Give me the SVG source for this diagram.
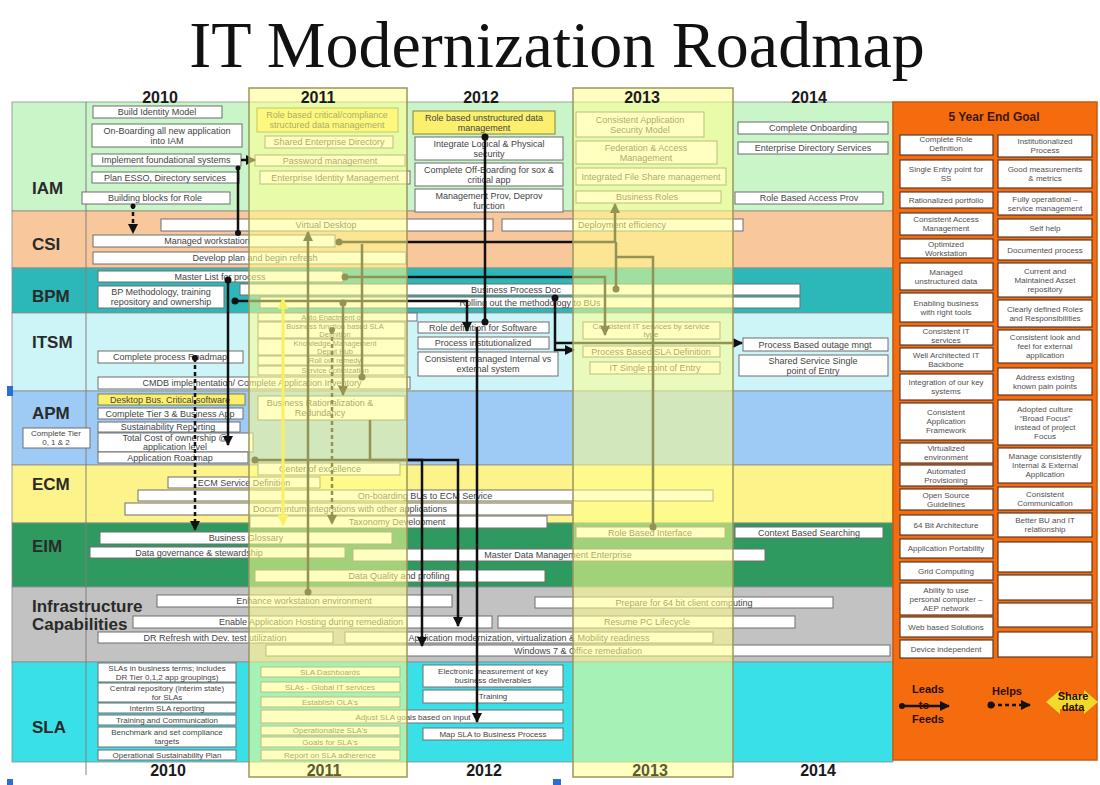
<svg xmlns="http://www.w3.org/2000/svg" width="1100" height="785" viewBox="0 0 1100 785">
<defs>
<style>
.bg{stroke:#8a8a8a;stroke-width:0.8}
.box{fill:#fff;stroke:#6e6e6e;stroke-width:1}
.ybox{fill:#fbef6e;stroke:#8a8040;stroke-width:1}
.t{font-family:"Liberation Sans",Arial,sans-serif;font-size:9px;fill:#444;text-anchor:middle}
.s8{font-size:8px}
.s7{font-size:7.5px}
.lbl{font-family:"Liberation Sans",Arial,sans-serif;font-weight:bold;font-size:17px;fill:#2a2a2a}
.yr{font-family:"Liberation Sans",Arial,sans-serif;font-weight:bold;font-size:16px;fill:#1a1a1a;text-anchor:middle}
.conn{fill:none;stroke:#111;stroke-width:2.5}
.dash{stroke-dasharray:4,3}
.dot{fill:#111}
.ov{fill:#ffff8c;fill-opacity:0.55;stroke:#9c9560;stroke-width:1.5}
.gbox{fill:#fff;stroke:#5a3a2a;stroke-width:1.2}
.gt{font-family:"Liberation Sans",Arial,sans-serif;font-size:8px;fill:#505050;text-anchor:middle}
.leg{font-family:"Liberation Sans",Arial,sans-serif;font-weight:bold;font-size:11px;fill:#2a1000;text-anchor:middle}
</style>
<marker id="ah" viewBox="0 0 10 10" refX="9" refY="5" markerWidth="10" markerHeight="10" markerUnits="userSpaceOnUse" orient="auto"><path d="M0,0 L10,5 L0,10 z" fill="#111"/></marker>
<marker id="yh" viewBox="0 0 10 10" refX="9" refY="5" markerWidth="11" markerHeight="11" markerUnits="userSpaceOnUse" orient="auto-start-reverse"><path d="M0,0 L10,5 L0,10 z" fill="#f2dc30"/></marker>
</defs>
<rect width="1100" height="785" fill="#fff"/>
<text x="557" y="67" font-family="'Liberation Serif','Times New Roman',serif" font-size="66" fill="#111" text-anchor="middle">IT Modernization Roadmap</text>

<g id="lanes">
<rect class="bg" x="12" y="102" width="881" height="109" fill="#c9f5c9"/>
<rect class="bg" x="12" y="211" width="881" height="57" fill="#f8c89c"/>
<rect class="bg" x="12" y="268" width="881" height="45" fill="#2cb8b8"/>
<rect class="bg" x="12" y="313" width="881" height="78" fill="#cdf5f8"/>
<rect class="bg" x="12" y="391" width="881" height="74" fill="#9dcbf6"/>
<rect class="bg" x="12" y="465" width="881" height="58" fill="#fcf38a"/>
<rect class="bg" x="12" y="523" width="881" height="64" fill="#2f9a60"/>
<rect class="bg" x="12" y="587" width="881" height="75" fill="#c2c2c2"/>
<rect class="bg" x="12" y="662" width="881" height="100" fill="#3ae0e8"/>
<line x1="86" y1="102" x2="86" y2="775" stroke="#808080" stroke-width="1"/>
<text class="lbl" x="32" y="194">IAM</text>
<text class="lbl" x="32" y="250">CSI</text>
<text class="lbl" x="32" y="302">BPM</text>
<text class="lbl" x="32" y="348">ITSM</text>
<text class="lbl" x="32" y="419">APM</text>
<text class="lbl" x="32" y="490">ECM</text>
<text class="lbl" x="32" y="552">EIM</text>
<text class="lbl" x="32" y="612">Infrastructure</text>
<text class="lbl" x="32" y="630">Capabilities</text>
<text class="lbl" x="32" y="733">SLA</text>
</g>

<g id="iam">
<g id="b1"><rect class="box" x="93" y="106" width="129" height="12"/><text class="t" x="157" y="115">Build Identity Model</text></g>
<g id="b2"><rect class="box" x="92" y="124" width="150" height="23"/><text class="t" x="167" y="134">On-Boarding all new application</text><text class="t" x="167" y="144">into IAM</text></g>
<g id="b3"><rect class="box" x="92" y="154" width="149" height="12"/><text class="t" x="166" y="163">Implement foundational systems</text></g>
<g id="b4"><rect class="box" x="92" y="172" width="147" height="11"/><text class="t" x="165" y="181">Plan ESSO, Directory services</text></g>
<g id="b5"><rect class="box" x="82" y="192" width="148" height="12"/><text class="t" x="155" y="201">Building blocks for Role</text></g>
<g id="b6"><rect class="ybox" x="257" y="108" width="141" height="24"/><text class="t" x="327" y="118">Role based critical/compliance</text><text class="t" x="327" y="128">structured data management</text></g>
<g id="b7"><rect class="box" x="265" y="136" width="128" height="12"/><text class="t" x="329" y="145">Shared Enterprise Directory</text></g>
<g id="b8"><rect class="box" x="255" y="155" width="150" height="11"/><text class="t" x="330" y="164">Password management</text></g>
<g id="b9"><rect class="box" x="260" y="171" width="150" height="13"/><text class="t" x="335" y="181">Enterprise Identity Management</text></g>
<g id="b10"><rect class="ybox" x="413" y="111" width="142" height="23"/><text class="t" x="484" y="121">Role based unstructured data</text><text class="t" x="484" y="131">management</text></g>
<g id="b11"><rect class="box" x="415" y="137" width="148" height="23"/><text class="t" x="489" y="147">Integrate Logical &amp; Physical</text><text class="t" x="489" y="157">security</text></g>
<g id="b12"><rect class="box" x="415" y="163" width="148" height="23"/><text class="t" x="489" y="173">Complete Off-Boarding for sox &amp;</text><text class="t" x="489" y="183">critical app</text></g>
<g id="b13"><rect class="box" x="415" y="189" width="148" height="23"/><text class="t" x="489" y="199">Management Prov, Deprov</text><text class="t" x="489" y="209">function</text></g>
<g id="b14"><rect class="box" x="576" y="112" width="128" height="25"/><text class="t" x="640" y="123">Consistent Application</text><text class="t" x="640" y="133">Security Model</text></g>
<g id="b15"><rect class="box" x="576" y="141" width="141" height="23"/><text class="t" x="646" y="151">Federation &amp; Access</text><text class="t" x="646" y="161">Management</text></g>
<g id="b16"><rect class="box" x="576" y="168" width="150" height="17"/><text class="t" x="651" y="180">Integrated File Share management</text></g>
<g id="b17"><rect class="box" x="576" y="191" width="145" height="12"/><text class="t" x="647" y="200">Business Roles</text></g>
<g id="b18"><rect class="box" x="738" y="122" width="150" height="12"/><text class="t" x="813" y="131">Complete Onboarding</text></g>
<g id="b19"><rect class="box" x="738" y="142" width="150" height="12"/><text class="t" x="813" y="151">Enterprise Directory Services</text></g>
<g id="b20"><rect class="box" x="735" y="192" width="148" height="12"/><text class="t" x="809" y="201">Role Based Access Prov</text></g>
</g>

<g id="csi">
<g id="c1"><rect class="box" x="161" y="219" width="332" height="12"/><text class="t" x="326" y="228">Virtual Desktop</text></g>
<g id="c2"><rect class="box" x="502" y="219" width="241" height="12"/><text class="t" x="622" y="228">Deployment efficiency</text></g>
<g id="c3"><rect class="box" x="93" y="235" width="242" height="12"/><text class="t" x="207" y="244">Managed workstation</text></g>
<g id="c4"><rect class="box" x="93" y="252" width="313" height="12"/><text class="t" x="255" y="261">Develop plan and begin refresh</text></g>
</g>

<g id="bpm">
<g id="p1"><rect class="box" x="98" y="271" width="245" height="11"/><text class="t" x="220" y="280">Master List for process</text></g>
<g id="p2"><rect class="box" x="98" y="286" width="126" height="22"/><text class="t" x="161" y="295">BP Methodology, training</text><text class="t" x="161" y="305">repository and ownership</text></g>
<g id="p3"><rect class="box" x="240" y="284" width="560" height="11"/><text class="t" x="516" y="293">Business Process Doc</text></g>
<g id="p4"><rect class="box" x="260" y="297" width="540" height="11"/><text class="t" x="530" y="306">Rolling out the methodology to BUs</text></g>
</g>

<g id="itsm">
<g id="i1"><rect class="box" x="98" y="351" width="145" height="12"/><text class="t" x="170" y="360">Complete process Roadmap</text></g>
<g id="i2"><rect class="box" x="98" y="377" width="312" height="12"/><text class="t" x="252" y="386">CMDB implementation/ Complete Application Inventory</text></g>
<g id="i3a"><rect class="box" x="258" y="313" width="159" height="8"/><text class="t s7" x="332" y="320">Auto Enactment of</text></g>
<g id="i3b"><rect class="box" x="258" y="322" width="147" height="16"/><text class="t s7" x="335" y="329">Business function based SLA</text><text class="t s7" x="335" y="336.5">Definition</text></g>
<g id="i3c"><rect class="box" x="258" y="339" width="147" height="16"/><text class="t s7" x="335" y="346">Knowledge Management</text><text class="t s7" x="335" y="353.5">Depot Hub</text></g>
<g id="i3d"><rect class="box" x="258" y="356" width="147" height="9"/><text class="t s7" x="335" y="363">Roll out remedy</text></g>
<g id="i3e"><rect class="box" x="258" y="366" width="147" height="9"/><text class="t s7" x="335" y="373">Service optimization</text></g>
<g id="i4"><rect class="box" x="418" y="322" width="131" height="11"/><text class="t" x="483" y="331">Role definition for Software</text></g>
<g id="i5"><rect class="box" x="418" y="337" width="131" height="12"/><text class="t" x="483" y="346">Process institutionalized</text></g>
<g id="i6"><rect class="box" x="418" y="352" width="140" height="24"/><text class="t" x="488" y="362">Consistent managed Internal vs</text><text class="t" x="488" y="372">external system</text></g>
<g id="i7"><rect class="box" x="583" y="322" width="137" height="17"/><text class="t s8" x="651" y="329">Consistent IT services by service</text><text class="t s8" x="651" y="337">type</text></g>
<g id="i8"><rect class="box" x="583" y="346" width="137" height="11"/><text class="t" x="651" y="355">Process Based SLA Definition</text></g>
<g id="i9"><rect class="box" x="590" y="362" width="130" height="12"/><text class="t" x="655" y="371">IT Single point of Entry</text></g>
<g id="i10"><rect class="box" x="743" y="338" width="145" height="13"/><text class="t" x="815" y="348">Process Based outage mngt</text></g>
<g id="i11"><rect class="box" x="739" y="355" width="149" height="21"/><text class="t" x="813" y="364">Shared Service Single</text><text class="t" x="813" y="374">point of Entry</text></g>
</g>

<g id="apm">
<g id="a1"><rect class="ybox" x="98" y="394" width="147" height="11"/><text class="t" x="170" y="403">Desktop Bus. Critical software</text></g>
<g id="a2"><rect class="box" x="98" y="408" width="145" height="11"/><text class="t" x="170" y="417">Complete Tier 3 &amp; Business App</text></g>
<g id="a3"><rect class="box" x="98" y="422" width="142" height="10"/><text class="t" x="168" y="430">Sustainability Reporting</text></g>
<g id="a4"><rect class="box" x="98" y="433" width="155" height="19"/><text class="t" x="175" y="441">Total Cost of ownership @</text><text class="t" x="175" y="450">application level</text></g>
<g id="a5"><rect class="box" x="98" y="452" width="150" height="11"/><text class="t" x="170" y="461">Application Roadmap</text></g>
<g id="a6"><rect class="box" x="23" y="428" width="67" height="20"/><text class="t s8" x="56" y="436">Complete Tier</text><text class="t s8" x="56" y="445">0, 1 &amp; 2</text></g>
<g id="a7"><rect class="box" x="258" y="396" width="147" height="24"/><text class="t" x="320" y="406">Business Rationalization &amp;</text><text class="t" x="320" y="416">Redundancy</text></g>
</g>

<g id="ecm">
<g id="e1"><rect class="box" x="258" y="463" width="142" height="12"/><text class="t" x="320" y="472">Center of excellence</text></g>
<g id="e2"><rect class="box" x="168" y="477" width="152" height="11"/><text class="t" x="244" y="486">ECM Service Definition</text></g>
<g id="e3"><rect class="box" x="138" y="490" width="575" height="11"/><text class="t" x="425" y="499">On-boarding BUs to ECM Service</text></g>
<g id="e4"><rect class="box" x="125" y="503" width="447" height="12"/><text class="t" x="350" y="512">Documentum integrations with other applications</text></g>
<g id="e5"><rect class="box" x="250" y="516" width="297" height="12"/><text class="t" x="397" y="525">Taxonomy Development</text></g>
</g>

<g id="eim">
<g id="m1"><rect class="box" x="100" y="532" width="292" height="12"/><text class="t" x="246" y="541">Business Glossary</text></g>
<g id="m2"><rect class="box" x="90" y="547" width="255" height="11"/><text class="t" x="199" y="556">Data governance &amp; stewardship</text></g>
<g id="m3"><rect class="box" x="353" y="549" width="412" height="12"/><text class="t" x="558" y="558">Master Data Management Enterprise</text></g>
<g id="m4"><rect class="box" x="255" y="570" width="290" height="12"/><text class="t" x="399" y="579">Data Quality and profiling</text></g>
<g id="m5"><rect class="box" x="576" y="527" width="149" height="11"/><text class="t" x="650" y="536">Role Based Interface</text></g>
<g id="m6"><rect class="box" x="735" y="527" width="148" height="11"/><text class="t" x="809" y="536">Context Based Searching</text></g>
</g>

<g id="infra">
<g id="f1"><rect class="box" x="157" y="595" width="295" height="12"/><text class="t" x="304" y="604">Enhance workstation environment</text></g>
<g id="f2"><rect class="box" x="535" y="597" width="298" height="11"/><text class="t" x="684" y="606">Prepare for 64 bit client computing</text></g>
<g id="f3"><rect class="box" x="133" y="616" width="359" height="12"/><text class="t" x="311" y="625">Enable Application Hosting during remediation</text></g>
<g id="f4"><rect class="box" x="498" y="616" width="297" height="12"/><text class="t" x="647" y="625">Resume PC Lifecycle</text></g>
<g id="f5"><rect class="box" x="98" y="632" width="235" height="11"/><text class="t" x="215" y="641">DR Refresh with Dev. test utilization</text></g>
<g id="f6"><rect class="box" x="345" y="632" width="368" height="11"/><text class="t" x="529" y="641">Application modernization, virtualization &amp; Mobility readiness</text></g>
<g id="f7"><rect class="box" x="266" y="645" width="624" height="11"/><text class="t" x="578" y="654">Windows 7 &amp; Office remediation</text></g>
</g>

<g id="sla">
<g id="s1"><rect class="box" x="98" y="663" width="138" height="19"/><text class="t s8" x="167" y="671">SLAs in business terms; includes</text><text class="t s8" x="167" y="680">DR Tier 0,1,2 app groupings)</text></g>
<g id="s2"><rect class="box" x="98" y="683" width="138" height="19"/><text class="t s8" x="167" y="691">Central repository (interim state)</text><text class="t s8" x="167" y="700">for SLAs</text></g>
<g id="s3"><rect class="box" x="98" y="703" width="138" height="10"/><text class="t s8" x="167" y="711">Interim SLA reporting</text></g>
<g id="s4"><rect class="box" x="98" y="715" width="138" height="10"/><text class="t s8" x="167" y="723">Training and Communication</text></g>
<g id="s5"><rect class="box" x="98" y="727" width="138" height="20"/><text class="t s8" x="167" y="735">Benchmark and set compliance</text><text class="t s8" x="167" y="744">targets</text></g>
<g id="s6"><rect class="box" x="98" y="750" width="138" height="10"/><text class="t s8" x="167" y="758">Operational Sustainability Plan</text></g>
<g id="s7"><rect class="box" x="261" y="667" width="139" height="10"/><text class="t s8" x="330" y="675">SLA Dashboards</text></g>
<g id="s8"><rect class="box" x="261" y="682" width="139" height="10"/><text class="t s8" x="330" y="690">SLAs - Global IT services</text></g>
<g id="s9"><rect class="box" x="261" y="697" width="139" height="10"/><text class="t s8" x="330" y="705">Establish OLA's</text></g>
<g id="s10"><rect class="box" x="261" y="710" width="302" height="13"/><text class="t s8" x="413" y="720">Adjust SLA goals based on input</text></g>
<g id="s11"><rect class="box" x="261" y="726" width="139" height="9"/><text class="t s8" x="330" y="733">Operationalize SLA's</text></g>
<g id="s12"><rect class="box" x="261" y="737" width="139" height="10"/><text class="t s8" x="330" y="745">Goals for SLA's</text></g>
<g id="s13"><rect class="box" x="261" y="750" width="139" height="10"/><text class="t s8" x="330" y="758">Report on SLA adherence</text></g>
<g id="s14"><rect class="box" x="423" y="665" width="140" height="22"/><text class="t s8" x="493" y="674">Electronic measurement of key</text><text class="t s8" x="493" y="683">business deliverables</text></g>
<g id="s15"><rect class="box" x="423" y="690" width="140" height="13"/><text class="t s8" x="493" y="699">Training</text></g>
<g id="s16"><rect class="box" x="423" y="728" width="140" height="12"/><text class="t s8" x="493" y="737">Map SLA to Business Process</text></g>
</g>

<g id="connectors">
<path class="conn" d="M238,233 V167"/><circle class="dot" cx="238" cy="233" r="3"/><circle class="dot" cx="238" cy="168" r="2.5"/>
<path class="conn" d="M241,160 H255" marker-end="url(#ah)"/>
<path class="conn dash" d="M133,205 V233" marker-end="url(#ah)"/><circle class="dot" cx="133" cy="206" r="2.5"/>
<path class="conn" d="M339,242 H615 V204" marker-end="url(#ah)"/><circle class="dot" cx="339" cy="242" r="3.5"/>
<path class="conn" d="M345,277 H605 V335" marker-end="url(#ah)"/><circle class="dot" cx="345" cy="277" r="3.5"/>
<path class="conn" d="M228,280 V445" marker-end="url(#ah)"/><circle class="dot" cx="228" cy="280" r="3.5"/>
<path class="conn" d="M235,301 H467 V331" marker-end="url(#ah)"/><circle class="dot" cx="235" cy="301" r="3.5"/>
<path class="conn" d="M485,137 V322"/><circle class="dot" cx="485" cy="137" r="3.5"/><circle class="dot" cx="485" cy="322" r="3.5"/>
<path class="conn" d="M477,327 V722" marker-end="url(#ah)"/>
<path class="conn" d="M555,298 V350 H574" marker-end="url(#ah)"/><circle class="dot" cx="555" cy="298" r="3.5"/>
<path class="conn" d="M555,343 H742" marker-end="url(#ah)"/>
<path class="conn" d="M653,527 V257 H615"/><circle class="dot" cx="653" cy="527" r="3.5"/>
<path class="conn" d="M616,289 V242"/><circle class="dot" cx="616" cy="289" r="3.5"/>
<path class="conn" d="M308,593 V232" marker-end="url(#ah)"/><circle class="dot" cx="308" cy="592" r="3.5"/>
<path class="conn" d="M362,377 V244"/><circle class="dot" cx="362" cy="377" r="3.5"/>
<path class="conn" d="M343,303 V395" marker-end="url(#ah)"/><circle class="dot" cx="343" cy="303" r="3.5"/>
<path class="conn dash" d="M332,330 V524" marker-end="url(#ah)"/><circle class="dot" cx="332" cy="330" r="3"/>
<path class="conn" d="M255,460 H458 V626" marker-end="url(#ah)"/><circle class="dot" cx="255" cy="460" r="3.5"/>
<path class="conn" d="M370,420 V460 H422 V646" marker-end="url(#ah)"/>
<path class="conn dash" d="M195,358 V530" marker-end="url(#ah)"/><circle class="dot" cx="195" cy="358" r="3"/>
<path fill="none" stroke="#f2dc30" stroke-width="3" d="M283,299 V525" marker-start="url(#yh)" marker-end="url(#yh)"/>
</g>

<g id="col2011"><rect class="ov" x="249" y="88" width="158" height="689"/></g>
<g id="col2013"><rect class="ov" x="573" y="88" width="160" height="689"/></g>

<g id="years">
<text class="yr" x="160" y="103">2010</text>
<text class="yr" x="318" y="103">2011</text>
<text class="yr" x="481" y="103">2012</text>
<text class="yr" x="642" y="103">2013</text>
<text class="yr" x="809" y="103">2014</text>
<text class="yr" x="168" y="776">2010</text>
<text class="yr" x="324" y="776" style="fill:#5c5a30">2011</text>
<text class="yr" x="484" y="776">2012</text>
<text class="yr" x="650" y="776" style="fill:#5c5a30">2013</text>
<text class="yr" x="818" y="776">2014</text>
</g>

<g id="goal">
<rect x="893" y="102" width="204" height="658" fill="#f46c0e" stroke="#c85a10" stroke-width="1.5"/>
<text x="994" y="121" font-family="'Liberation Sans',Arial,sans-serif" font-weight="bold" font-size="12" fill="#3b1800" text-anchor="middle">5 Year End Goal</text>
<g id="gl">
<rect class="gbox" x="900" y="135" width="93" height="20"/><text class="gt" x="946" y="142">Complete Role</text><text class="gt" x="946" y="151">Definition</text>
<rect class="gbox" x="900" y="160" width="93" height="28"/><text class="gt" x="946" y="172">Single Entry point for</text><text class="gt" x="946" y="181">SS</text>
<rect class="gbox" x="900" y="192" width="93" height="16"/><text class="gt" x="946" y="203">Rationalized portfolio</text>
<rect class="gbox" x="900" y="213" width="93" height="22"/><text class="gt" x="946" y="222">Consistent Access</text><text class="gt" x="946" y="231">Management</text>
<rect class="gbox" x="900" y="239" width="93" height="19"/><text class="gt" x="946" y="247">Optimized</text><text class="gt" x="946" y="256">Workstation</text>
<rect class="gbox" x="900" y="263" width="93" height="27"/><text class="gt" x="946" y="275">Managed</text><text class="gt" x="946" y="284">unstructured data</text>
<rect class="gbox" x="900" y="293" width="93" height="29"/><text class="gt" x="946" y="306">Enabling business</text><text class="gt" x="946" y="315">with right tools</text>
<rect class="gbox" x="900" y="326" width="93" height="19"/><text class="gt" x="946" y="334">Consistent IT</text><text class="gt" x="946" y="343">services</text>
<rect class="gbox" x="900" y="348" width="93" height="23"/><text class="gt" x="946" y="358">Well Architected IT</text><text class="gt" x="946" y="367">Backbone</text>
<rect class="gbox" x="900" y="374" width="93" height="26"/><text class="gt" x="946" y="385">Integration of our key</text><text class="gt" x="946" y="394">systems</text>
<rect class="gbox" x="900" y="403" width="93" height="37"/><text class="gt" x="946" y="415">Consistent</text><text class="gt" x="946" y="424">Application</text><text class="gt" x="946" y="433">Framework</text>
<rect class="gbox" x="900" y="443" width="93" height="20"/><text class="gt" x="946" y="451">Virtualized</text><text class="gt" x="946" y="460">environment</text>
<rect class="gbox" x="900" y="465" width="93" height="21"/><text class="gt" x="946" y="474">Automated</text><text class="gt" x="946" y="483">Provisioning</text>
<rect class="gbox" x="900" y="489" width="93" height="21"/><text class="gt" x="946" y="498">Open Source</text><text class="gt" x="946" y="507">Guidelines</text>
<rect class="gbox" x="900" y="515" width="93" height="20"/><text class="gt" x="946" y="528">64 Bit Architecture</text>
<rect class="gbox" x="900" y="539" width="93" height="19"/><text class="gt" x="946" y="551">Application Portability</text>
<rect class="gbox" x="900" y="562" width="93" height="18"/><text class="gt" x="946" y="574">Grid Computing</text>
<rect class="gbox" x="900" y="583" width="93" height="32"/><text class="gt" x="946" y="593">Ability to use</text><text class="gt" x="946" y="602">personal computer –</text><text class="gt" x="946" y="611">AEP network</text>
<rect class="gbox" x="900" y="617" width="93" height="20"/><text class="gt" x="946" y="630">Web based Solutions</text>
<rect class="gbox" x="900" y="640" width="93" height="18"/><text class="gt" x="946" y="652">Device independent</text>
</g>
<g id="gr">
<rect class="gbox" x="998" y="135" width="94" height="22"/><text class="gt" x="1045" y="144">Institutionalized</text><text class="gt" x="1045" y="153">Process</text>
<rect class="gbox" x="998" y="160" width="94" height="28"/><text class="gt" x="1045" y="172">Good measurements</text><text class="gt" x="1045" y="181">&amp; metrics</text>
<rect class="gbox" x="998" y="192" width="94" height="23"/><text class="gt" x="1045" y="202">Fully operational –</text><text class="gt" x="1045" y="211">service management</text>
<rect class="gbox" x="998" y="219" width="94" height="18"/><text class="gt" x="1045" y="231">Self help</text>
<rect class="gbox" x="998" y="240" width="94" height="20"/><text class="gt" x="1045" y="253">Documented process</text>
<rect class="gbox" x="998" y="263" width="94" height="34"/><text class="gt" x="1045" y="274">Current and</text><text class="gt" x="1045" y="283">Maintained Asset</text><text class="gt" x="1045" y="292">repository</text>
<rect class="gbox" x="998" y="300" width="94" height="27"/><text class="gt" x="1045" y="312">Clearly defined Roles</text><text class="gt" x="1045" y="321">and Responsibilities</text>
<rect class="gbox" x="998" y="330" width="94" height="33"/><text class="gt" x="1045" y="340">Consistent look and</text><text class="gt" x="1045" y="349">feel for external</text><text class="gt" x="1045" y="358">application</text>
<rect class="gbox" x="998" y="368" width="94" height="27"/><text class="gt" x="1045" y="380">Address existing</text><text class="gt" x="1045" y="389">known pain points</text>
<rect class="gbox" x="998" y="400" width="94" height="45"/><text class="gt" x="1045" y="412">Adopted culture</text><text class="gt" x="1045" y="421">“Broad Focus”</text><text class="gt" x="1045" y="430">instead of project</text><text class="gt" x="1045" y="439">Focus</text>
<rect class="gbox" x="998" y="448" width="94" height="35"/><text class="gt" x="1045" y="459">Manage consistently</text><text class="gt" x="1045" y="468">Internal &amp; External</text><text class="gt" x="1045" y="477">Application</text>
<rect class="gbox" x="998" y="487" width="94" height="23"/><text class="gt" x="1045" y="497">Consistent</text><text class="gt" x="1045" y="506">Communication</text>
<rect class="gbox" x="998" y="513" width="94" height="24"/><text class="gt" x="1045" y="523">Better BU and IT</text><text class="gt" x="1045" y="532">relationship</text>
<rect class="gbox" x="998" y="542" width="94" height="30"/>
<rect class="gbox" x="998" y="575" width="94" height="25"/>
<rect class="gbox" x="998" y="603" width="94" height="24"/>
<rect class="gbox" x="998" y="632" width="94" height="25"/>
</g>
<g id="legend">
<text class="leg" x="928" y="693">Leads</text>
<path class="conn" d="M902,706 H949" marker-end="url(#ah)"/><circle class="dot" cx="902" cy="706" r="3"/>
<text class="leg" x="924" y="709" font-size="9">to</text>
<text class="leg" x="928" y="723">Feeds</text>
<text class="leg" x="1007" y="695">Helps</text>
<path class="conn dash" d="M991,705 H1030" marker-end="url(#ah)"/><circle class="dot" cx="991" cy="705" r="3.5"/>
<polygon points="1046,702 1060,690 1060,695 1084,695 1084,690 1098,702 1084,714 1084,709 1060,709 1060,714" fill="#f3d92a"/>
<text class="leg" x="1073" y="700" font-size="9">Share</text>
<text class="leg" x="1073" y="711" font-size="9">data</text>
</g>
</g>

<g id="handles">
<rect x="7" y="386" width="6" height="10" fill="#2a6fd6"/>
<rect x="7" y="779" width="6" height="6" fill="#2a6fd6"/>
<rect x="553" y="779" width="8" height="6" fill="#2a6fd6"/>
</g>
</svg>
